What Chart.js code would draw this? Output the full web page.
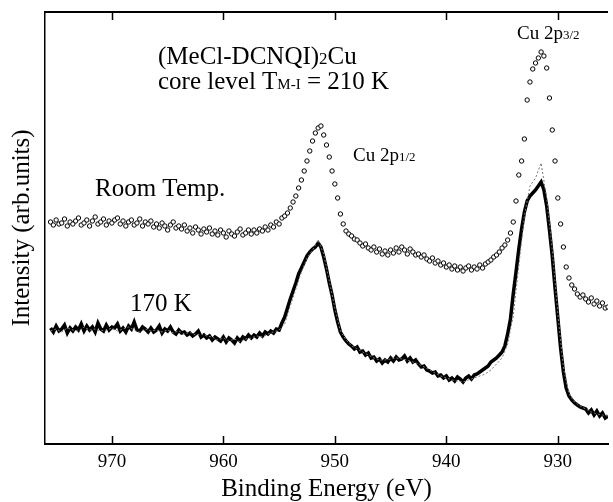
<!DOCTYPE html>
<html>
<head>
<meta charset="utf-8">
<script src="https://cdn.jsdelivr.net/npm/chart.js@4.4.1/dist/chart.umd.min.js"></script>
<style>
  html, body { margin: 0; padding: 0; background: #fff; }
</style>
</head>
<body>
<canvas id="myChart" width="613" height="502"></canvas>
<script>
'use strict';

// energy grid (eV), spectra sampled from high to low binding energy
const gridStart = 975.5;
const gridStep = 0.25;
const thinStep = 0.5;

const xTicks = [970, 960, 950, 940, 930];

// Room Temp. (open circles)
const roomTemp = [
  222,219,224,220,221,225,218,222,220,223,226,219,
  221,224,218,223,227,220,222,225,219,223,221,224,
  226,220,223,218,222,224,219,221,225,218,222,220,
  223,217,220,216,221,218,214,219,222,216,218,215,
  219,213,216,211,217,214,210,215,212,216,210,213,
  209,214,211,207,213,210,208,212,215,209,211,214,
  210,214,211,215,213,217,214,219,217,222,220,226,
  228,231,236,242,248,256,264,273,283,293,303,311,
  316,318,309,299,287,273,260,246,230,220,213,210,
  208,205,204,201,198,200,196,194,197,192,195,190,
  193,189,194,191,196,192,197,194,190,195,192,189,
  190,187,189,185,183,186,181,183,179,181,177,179,
  175,178,174,177,173,176,178,174,177,175,179,176,
  180,182,184,187,189,192,196,199,204,211,222,243,
  269,283,305,344,362,375,381,386,392,388,376,346,
  314,283,246,220,197,177,166,159,155,150,147,149,
  145,142,146,140,143,138,141,136,137
];

// 170 K (thick line)
const k170 = [
  116,112,118,113,115,119,111,116,113,117,114,120,
  113,118,114,117,112,121,115,113,119,114,117,116,
  120,113,116,112,118,115,122,114,113,117,115,112,
  116,112,114,118,111,115,113,117,112,110,114,111,
  112,109,111,108,110,113,107,109,106,108,104,107,
  105,103,107,102,106,104,101,106,103,107,105,109,
  106,109,107,111,108,112,110,113,111,115,114,121,
  127,136,145,153,161,170,176,182,188,192,195,197,
  201,197,187,175,161,149,134,122,112,107,103,100,
  98,95,97,92,93,89,91,86,87,83,85,81,
  84,82,86,83,87,84,85,88,83,86,82,84,
  80,77,78,74,73,71,72,68,69,66,68,64,
  66,63,67,65,62,66,68,65,69,70,72,74,
  76,78,82,84,86,89,92,98,110,125,150,172,
  195,215,232,243,248,251,254,258,262,254,238,214,
  188,156,126,96,72,56,48,44,41,39,37,36,
  35,31,34,29,33,28,31,26,28
];

// 170 K second trace (thin, 0.5 eV)
const k170b = [
  113,115,112,116,114,113,117,114,115,113,
  114,116,113,115,117,114,112,115,113,114,
  112,114,111,113,110,112,109,110,108,107,
  104,106,103,105,102,105,106,108,107,110,
  112,114,120,138,155,172,186,194,204,190,
  163,136,113,104,98,95,92,89,86,84,
  84,85,86,85,84,82,80,77,74,71,
  68,66,64,63,62,64,66,68,70,74,
  80,86,100,128,178,228,258,266,281,246,
  194,130,76,50,42,38,35,32,30,29,
  28
];

function toPoints(vals, step){
  return vals.map((v, i) => ({x: gridStart - i * step, y: v}));
}

const serif = "'Liberation Serif', 'Times New Roman', serif";
Chart.defaults.font.family = serif;
Chart.defaults.color = '#000';

// pieces of text: [text, size]
const notes = [
  {x: 158, y: 64, parts: [['(MeCl-DCNQI)', 25], ['2', 17], ['Cu', 25]]},
  {x: 158, y: 89, parts: [['core level T', 25], ['M-I', 15], [' = 210 K', 25]]},
  {x: 95, y: 196, parts: [['Room Temp.', 25]]},
  {x: 130, y: 311, parts: [['170 K', 25]]},
  {x: 353, y: 161, parts: [['Cu 2p', 19], ['1/2', 13]]},
  {x: 517, y: 39, parts: [['Cu 2p', 19], ['3/2', 13]]}
];

const framePlugin = {
  id: 'frame',
  afterDraw(chart){
    const ctx = chart.ctx;
    const {left, right, top, bottom} = chart.chartArea;
    const xs = chart.scales.x;
    ctx.save();
    ctx.strokeStyle = '#000';
    ctx.lineWidth = 2;
    ctx.beginPath();
    ctx.moveTo(left - 1, top);
    ctx.lineTo(right, top);
    ctx.stroke();
    ctx.lineWidth = 1.5;
    ctx.beginPath();
    for (let i = 0; i < xTicks.length; i++){
      const px = Math.round(xs.getPixelForValue(xTicks[i])) + 0.5;
      ctx.moveTo(px, bottom);
      ctx.lineTo(px, bottom - 8);
      ctx.moveTo(px, top);
      ctx.lineTo(px, top + 8);
    }
    ctx.stroke();

    ctx.fillStyle = '#000';
    ctx.textBaseline = 'alphabetic';
    ctx.textAlign = 'left';
    notes.forEach(n => {
      let x = n.x;
      n.parts.forEach(p => {
        ctx.font = p[1] + 'px ' + serif;
        ctx.fillText(p[0], x, n.y);
        x += ctx.measureText(p[0]).width;
      });
    });
    ctx.restore();
  }
};

const ctx = document.getElementById('myChart').getContext('2d');
const myChart = new Chart(ctx, {
  type: 'scatter',
  data: {
    datasets: [{
      label: '170 K b',
      data: toPoints(k170b, thinStep),
      showLine: true,
      borderColor: '#777',
      borderWidth: 1,
      borderDash: [2, 2],
      pointRadius: 0,
      tension: 0
    }, {
      label: '170 K',
      data: toPoints(k170, gridStep),
      showLine: true,
      borderColor: '#000',
      borderWidth: 3.5,
      pointRadius: 0,
      tension: 0
    }, {
      label: 'Room Temp.',
      data: toPoints(roomTemp, gridStep),
      showLine: false,
      pointStyle: 'circle',
      pointRadius: 2.2,
      borderWidth: 1,
      borderColor: '#000',
      backgroundColor: '#fff'
    }]
  },
  options: {
    responsive: false,
    animation: false,
    layout: {padding: {top: 12, right: 0, left: 0, bottom: 0}},
    plugins: {
      legend: {display: false},
      tooltip: {enabled: false}
    },
    scales: {
      x: {
        type: 'linear',
        reverse: true,
        min: 925.5,
        max: 976,
        afterBuildTicks: scale => { scale.ticks = xTicks.map(v => ({value: v})); },
        afterFit: scale => { scale.height = 58; },
        grid: {display: false, drawTicks: false},
        border: {display: true, color: '#000', width: 2},
        ticks: {
          font: {size: 19},
          padding: 7,
          maxRotation: 0,
          callback: v => String(v)
        },
        title: {
          display: true,
          text: 'Binding Energy (eV)',
          font: {size: 25, lineHeight: 1},
          padding: {top: 0, bottom: 0}
        }
      },
      y: {
        min: 0,
        max: 432,
        afterFit: scale => { scale.width = 45; },
        grid: {display: false, drawTicks: false},
        border: {display: true, color: '#000', width: 1.5},
        ticks: {display: false},
        title: {
          display: true,
          text: 'Intensity (arb.units)',
          font: {size: 25, lineHeight: 1},
          padding: {top: 10, bottom: 0}
        }
      }
    }
  },
  plugins: [framePlugin]
});
</script>
</body>
</html>
